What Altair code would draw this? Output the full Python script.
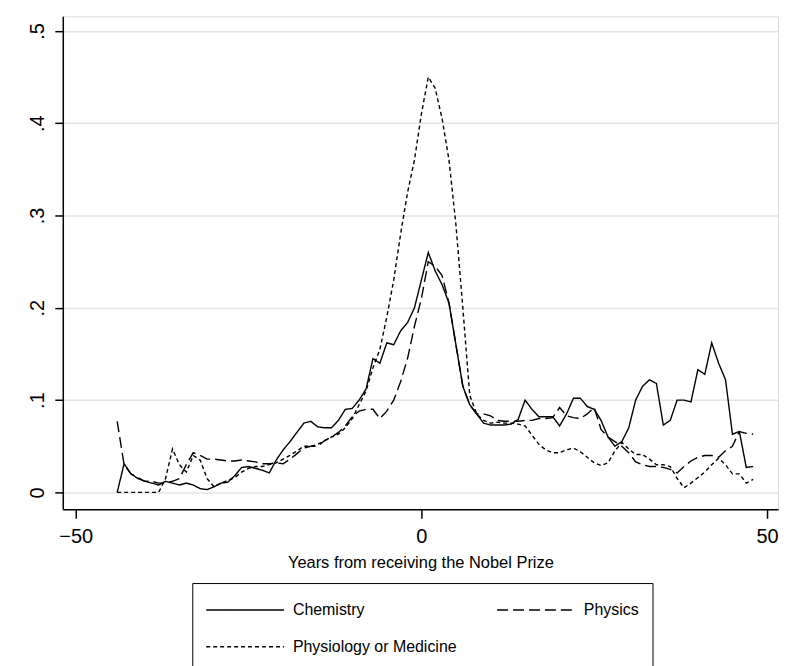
import altair as alt
import pandas as pd

years = list(range(-44, 49))

chemistry = [
    0.0, 0.031, 0.02, 0.015, 0.012, 0.01, 0.008, 0.012, 0.01, 0.008,        # -44..-35
    0.01, 0.008, 0.004, 0.003, 0.006, 0.01, 0.011, 0.018, 0.027, 0.028,     # -34..-25
    0.026, 0.024, 0.021, 0.035, 0.046, 0.055, 0.065, 0.075, 0.077, 0.071,   # -24..-15
    0.07, 0.07, 0.078, 0.09, 0.091, 0.1, 0.112, 0.145, 0.14, 0.162,         # -14..-5
    0.16, 0.175, 0.184, 0.2, 0.23, 0.26, 0.24, 0.225, 0.205, 0.16,          # -4..5
    0.115, 0.095, 0.085, 0.075, 0.073, 0.073, 0.073, 0.074, 0.079, 0.1,     # 6..15
    0.09, 0.082, 0.082, 0.082, 0.072, 0.085, 0.102, 0.102, 0.093, 0.09,     # 16..25
    0.078, 0.06, 0.05, 0.055, 0.07, 0.1, 0.115, 0.122, 0.118, 0.073,        # 26..35
    0.078, 0.1, 0.1, 0.098, 0.133, 0.128, 0.162, 0.14, 0.122, 0.063,        # 36..45
    0.066, 0.027, 0.028,                                                    # 46..48
]

physics = [
    0.077, 0.03, 0.02, 0.016, 0.012, 0.012, 0.01, 0.01, 0.012, 0.015,       # -44..-35
    0.03, 0.043, 0.04, 0.036, 0.036, 0.035, 0.034, 0.034, 0.035, 0.034,     # -34..-25
    0.033, 0.031, 0.031, 0.032, 0.031, 0.036, 0.042, 0.048, 0.05, 0.05,     # -24..-15
    0.056, 0.06, 0.065, 0.072, 0.082, 0.088, 0.09, 0.09, 0.08, 0.088,       # -14..-5
    0.1, 0.12, 0.145, 0.18, 0.21, 0.25, 0.245, 0.235, 0.205, 0.16,          # -4..5
    0.115, 0.095, 0.085, 0.085, 0.083, 0.078, 0.077, 0.077, 0.077, 0.078,   # 6..15
    0.078, 0.08, 0.08, 0.081, 0.092, 0.083, 0.081, 0.08, 0.085, 0.092,      # 16..25
    0.068, 0.06, 0.055, 0.05, 0.043, 0.033, 0.03, 0.028, 0.028, 0.027,     # 26..35
    0.025, 0.021, 0.028, 0.034, 0.038, 0.04, 0.04, 0.038, 0.045, 0.05,      # 36..45
    0.066, 0.064, 0.063,                                                    # 46..48
]

medicine = [
    0.0, 0.0, 0.0, 0.0, 0.0, 0.0, 0.0, 0.015, 0.047, 0.03,                  # -44..-35
    0.022, 0.04, 0.035, 0.015, 0.006, 0.01, 0.013, 0.016, 0.022, 0.026,     # -34..-25
    0.028, 0.028, 0.03, 0.032, 0.036, 0.04, 0.045, 0.05, 0.05, 0.052,      # -24..-15
    0.056, 0.06, 0.063, 0.07, 0.08, 0.095, 0.11, 0.135, 0.155, 0.19,        # -14..-5
    0.23, 0.28, 0.325, 0.36, 0.41, 0.45, 0.438, 0.405, 0.36, 0.29,          # -4..5
    0.2, 0.105, 0.085, 0.078, 0.075, 0.076, 0.075, 0.075, 0.074, 0.072,     # 6..15
    0.062, 0.052, 0.046, 0.043, 0.043, 0.046, 0.048, 0.044, 0.038, 0.032,   # 16..25
    0.029, 0.032, 0.045, 0.054, 0.047, 0.041, 0.041, 0.036, 0.03, 0.03,     # 26..35
    0.028, 0.015, 0.005, 0.01, 0.016, 0.022, 0.03, 0.037, 0.03, 0.02,       # 36..45
    0.02, 0.01, 0.014,                                                      # 46..48
]

series_names = ["Chemistry", "Physics", "Physiology or Medicine"]
x_ticks = [-50, 0, 50]
y_ticks = [0, 0.1, 0.2, 0.3, 0.4, 0.5]

rows = []
for name, vals in zip(series_names, [chemistry, physics, medicine]):
    for yr, v in zip(years, vals):
        rows.append({"year": yr, "value": v, "field": name})
df = pd.DataFrame(rows)

FONT = "Liberation Sans"

label_expr = "datum.value == 0 ? '0' : replace(format(datum.value, '.1f'), '0.', '.')"

chart = alt.Chart(df).mark_line(strokeWidth=1.4, color="black").encode(
    x=alt.X("year:Q",
            scale=alt.Scale(domain=[-51.87, 51.59], nice=False, zero=False),
            axis=alt.Axis(values=x_ticks, title="Years from receiving the Nobel Prize",
                          grid=False, tickSize=9, tickColor="black", domainColor="black",
                          domainWidth=1.5, tickWidth=1.5,
                          labelFont=FONT, labelFontSize=20, labelColor="black", labelPadding=8,
                          titleFont=FONT, titleFontSize=16.5, titleFontWeight="normal",
                          titleColor="black", titlePadding=8)),
    y=alt.Y("value:Q",
            scale=alt.Scale(domain=[-0.0184, 0.516], nice=False, zero=False),
            axis=alt.Axis(values=y_ticks, title=None, labelExpr=label_expr,
                          grid=True, gridColor="#e3e3e3", gridWidth=1.5,
                          tickSize=8, tickColor="black", domainColor="black",
                          domainWidth=1.5, tickWidth=1.5,
                          labelAngle=270, labelAlign="center", labelBaseline="bottom",
                          labelFont=FONT, labelFontSize=20, labelColor="black", labelPadding=7)),
    strokeDash=alt.StrokeDash("field:N",
                              scale=alt.Scale(domain=series_names,
                                              range=[[1, 0], [11, 5], [4, 3]]),
                              legend=alt.Legend(title=None, orient="none", direction="horizontal",
                                                legendX=130, legendY=569,
                                                columns=2, columnPadding=37,
                                                rowPadding=15, padding=13,
                                                strokeColor="black", fillColor="white",
                                                symbolType="M-3,0H3", symbolSize=676,
                                                symbolStrokeColor="black",
                                                symbolStrokeWidth=1.4, symbolOffset=26,
                                                labelOffset=34, labelLimit=0,
                                                labelFont=FONT, labelFontSize=16,
                                                labelColor="black")),
    order="year:Q",
).properties(
    width=718, height=495,
    padding={"left": 20, "top": 7, "right": 0, "bottom": 0},
).configure_view(stroke=None).configure(background="white")

chart.save("out.html", embed_options={"renderer": "svg", "actions": False})
